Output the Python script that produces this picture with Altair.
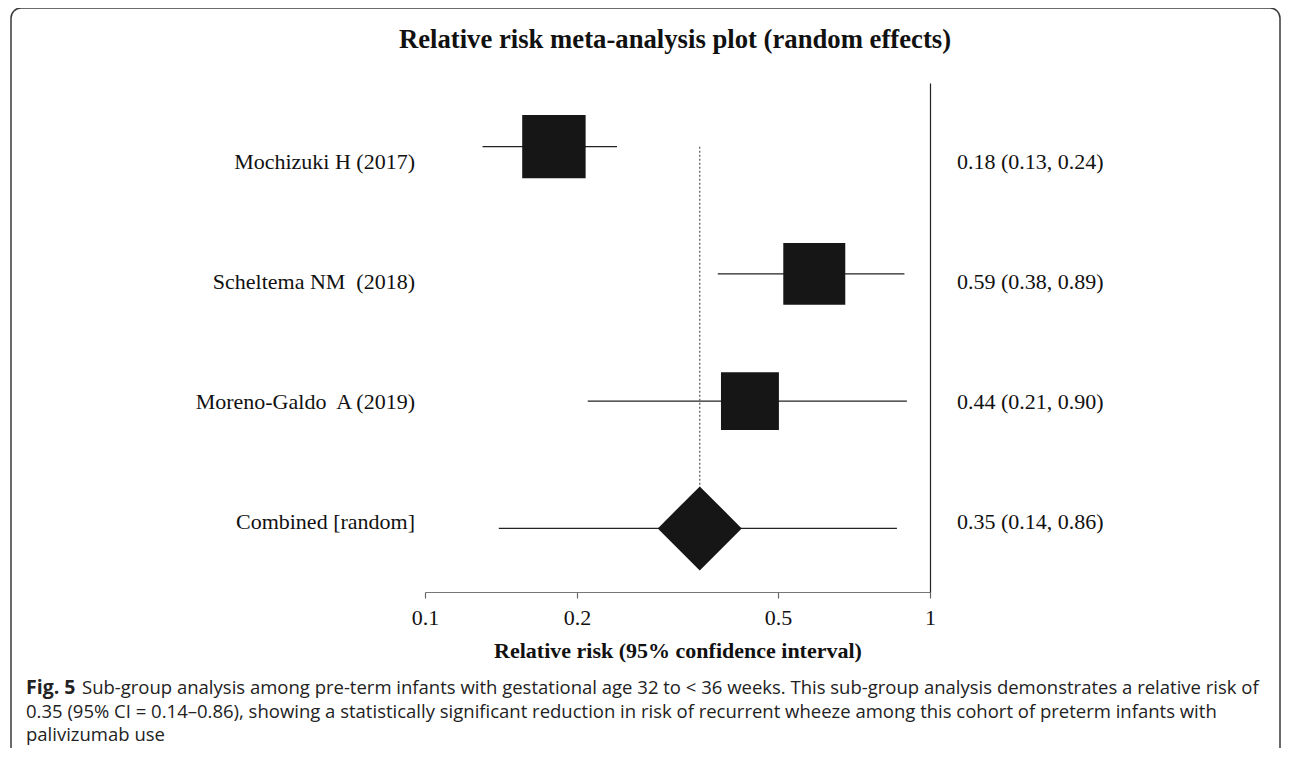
import altair as alt
import pandas as pd

# ---------------- data ----------------
studies = ["Mochizuki H (2017)", "Scheltema NM\u00a0 (2018)", "Moreno-Galdo\u00a0 A (2019)", "Combined [random]"]
kinds = ["study", "study", "study", "pooled"]
rr = [0.18, 0.59, 0.44, 0.35]
ci_low = [0.13, 0.38, 0.21, 0.14]
ci_high = [0.24, 0.89, 0.90, 0.86]
weights = [35.6, 34.0, 29.7, None]
x_ticks = [0.1, 0.2, 0.5, 1]
pooled = 0.35

title_text = "Relative risk meta-analysis plot (random effects)"
x_title = "Relative risk (95% confidence interval)"
caption_bold = "Fig. 5"
caption_lines = [
    "Sub-group analysis among pre-term infants with gestational age 32 to < 36 weeks. This sub-group analysis demonstrates a relative risk of",
    "0.35 (95% CI = 0.14\u20130.86), showing a statistically significant reduction in risk of recurrent wheeze among this cohort of preterm infants with",
    "palivizumab use",
]

df = pd.DataFrame({
    "study": studies,
    "kind": kinds,
    "rr": rr,
    "lo": ci_low,
    "hi": ci_high,
    "weight": weights,
})
df["label"] = [f"{a:.2f} ({b:.2f}, {c:.2f})" for a, b, c in zip(rr, ci_low, ci_high)]

ref_df = pd.DataFrame({"rr": [pooled], "top": [studies[0]], "bottom": [studies[-1]]})
one = pd.DataFrame({"k": [0]})

SERIF = "Liberation Serif"
SANS = "Open Sans"
INK = "#161616"

xscale = alt.Scale(type="log", domain=[0.1, 1], nice=False)
yscale = alt.Scale(type="point", domain=studies, padding=0.5)
text_yscale = alt.Scale(type="point", domain=studies, range=[79, 439], padding=0)

xaxis = alt.Axis(
    values=x_ticks, format="~g", title=x_title, labelFlush=False,
    domainColor="#777", domainWidth=1.2, tickColor="#666", tickWidth=1.2, tickSize=6,
    labelFont=SERIF, labelFontSize=22, labelColor="#111", labelPadding=9,
    titleFont=SERIF, titleFontSize=22, titleFontWeight="bold", titleColor="#111", titlePadding=12,
    grid=False,
)
yaxis_right = alt.Axis(orient="right", domain=True, domainColor="#222", domainWidth=1.2,
                       ticks=False, labels=False, title="", grid=False)

base = alt.Chart(df)

ci = base.mark_rule(color="#222", strokeWidth=1.3).encode(
    x=alt.X("lo:Q", scale=xscale, axis=xaxis),
    x2="hi:Q",
    y=alt.Y("study:N", scale=yscale, axis=yaxis_right),
)

ref = alt.Chart(ref_df).mark_rule(color="#555", strokeWidth=1.2, strokeDash=[2, 2]).encode(
    x=alt.X("rr:Q", scale=xscale, axis=xaxis),
    y=alt.Y("top:N", scale=yscale, axis=None),
    y2="bottom:N",
)

squares = base.transform_filter(alt.datum.kind == "study").mark_square(
    filled=True, color=INK, opacity=1
).encode(
    x=alt.X("rr:Q", scale=xscale, axis=xaxis),
    y=alt.Y("study:N", scale=yscale, axis=None),
    size=alt.Size("weight:Q", scale=alt.Scale(domain=[0, 100], range=[0, 11300]), legend=None),
)

diamond = base.transform_filter(alt.datum.kind == "pooled").mark_point(
    shape="diamond", filled=True, size=7056, color=INK, opacity=1
).encode(
    x=alt.X("rr:Q", scale=xscale, axis=xaxis),
    y=alt.Y("study:N", scale=yscale, axis=None),
)

left_labels = base.mark_text(
    align="right", baseline="middle", font=SERIF, fontSize=22, color="#111"
).encode(
    x=alt.value(-10),
    y=alt.Y("study:N", scale=text_yscale, axis=None),
    text="study:N",
)

right_labels = base.mark_text(
    align="left", baseline="middle", font=SERIF, fontSize=22, color="#111"
).encode(
    x=alt.value(532),
    y=alt.Y("study:N", scale=text_yscale, axis=None),
    text="label:N",
)

title = alt.Chart(one).mark_text(
    text=title_text, align="center", baseline="middle", font=SERIF, fontSize=26.7,
    fontWeight="bold", color="#111"
).encode(x=alt.value(250), y=alt.value(-43))

cap_bold = alt.Chart(one).mark_text(
    text=caption_bold, align="left", baseline="middle", font=SANS, fontSize=19.5,
    fontWeight="bold", color="#222"
).encode(x=alt.value(-399), y=alt.value(605))

cap1 = alt.Chart(one).mark_text(
    text=caption_lines[0], align="left", baseline="middle", font=SANS, fontSize=18.5, color="#222"
).encode(x=alt.value(-343), y=alt.value(605))
cap2 = alt.Chart(one).mark_text(
    text=caption_lines[1], align="left", baseline="middle", font=SANS, fontSize=18.5, color="#222"
).encode(x=alt.value(-399), y=alt.value(629))
cap3 = alt.Chart(one).mark_text(
    text=caption_lines[2], align="left", baseline="middle", font=SANS, fontSize=18.5, color="#222"
).encode(x=alt.value(-399), y=alt.value(652))

frame = alt.Chart(one).mark_rect(
    fillOpacity=0, stroke="#3a3a3a", strokeWidth=1.5, cornerRadius=10
).encode(x=alt.value(-414), x2=alt.value(855), y=alt.value(-75), y2=alt.value(700))

chart = alt.layer(
    frame, ci, ref, squares, diamond, left_labels, right_labels, title, cap_bold, cap1, cap2, cap3
).resolve_scale(y="independent").properties(
    width=505, height=509,
    padding={"left": 417, "top": 75, "right": 352, "bottom": 156},
    autosize=alt.AutoSizeParams(type="none"),
).configure(background="white").configure_view(stroke=None)

chart.save("out.html", embed_options={"renderer": "svg", "actions": False})
